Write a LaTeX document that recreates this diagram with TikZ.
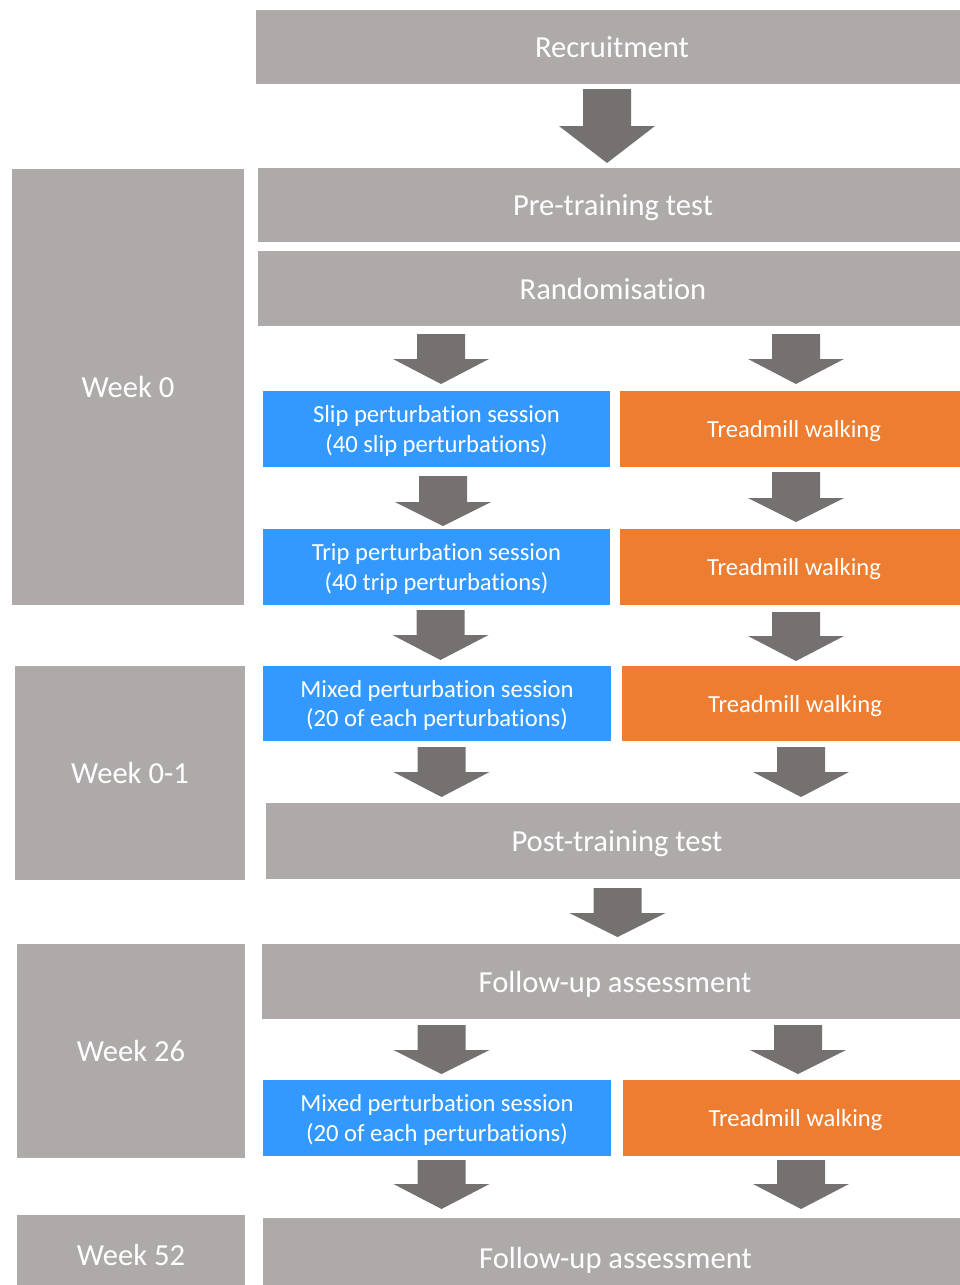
\documentclass[tikz,border=0pt]{standalone}
\usepackage{fontspec}
\setmainfont{Carlito}[Ligatures={NoCommon,NoRequired,NoContextual},Contextuals=NoAlternate]

\definecolor{boxgrey}{HTML}{AEAAAA}
\definecolor{arrowgrey}{HTML}{767171}
\definecolor{trainblue}{HTML}{3399FF}
\definecolor{walkorange}{HTML}{ED7D31}

\def\px{0.02cm}
% block arrow: centre x, shaft top, head start, tip
\newcommand{\flowarrow}[4]{%
  \fill[arrowgrey] (#1-24,#2) -- (#1+24,#2) -- (#1+24,#3) -- (#1+48,#3)
    -- (#1,#4) -- (#1-48,#3) -- (#1-24,#3) -- cycle;}

\begin{document}
\begin{tikzpicture}[x=0.02cm,y=-0.02cm,
  stage/.style={fill=boxgrey,text=white,inner sep=0pt,align=center,text depth=0pt,
    font=\fontsize{17.4}{21}\selectfont},
  train/.style={fill=trainblue,text=white,inner sep=0pt,align=center,text depth=0pt,
    font=\fontsize{14}{16.8}\selectfont},
  walk/.style={train,fill=walkorange}]
\useasboundingbox (0,0) rectangle (960,1285);
\clip (0,0) rectangle (960,1285);

% week column
\node[stage,minimum width=232*\px,minimum height=436*\px] (wk0) at (128,387) {Week 0};
\node[stage,minimum width=230*\px,minimum height=214*\px] (wk01) at (130,773) {Week 0-1};
\node[stage,minimum width=228*\px,minimum height=214*\px] (wk26) at (131,1051) {Week 26};
\node[stage,minimum width=228*\px,minimum height=80*\px] (wk52) at (131,1255) {Week 52};

% full width stages
\node[stage,minimum width=712*\px,minimum height=74*\px] (rec) at (612,47) {Recruitment};
\node[stage,minimum width=710*\px,minimum height=74*\px] (pretest) at (613,205) {Pre-training test};
\node[stage,minimum width=710*\px,minimum height=75*\px] (rand) at (613,288.5) {Randomisation};
\node[stage,minimum width=702*\px,minimum height=76*\px] (post) at (617,841) {Post-training test};
\node[stage,minimum width=706*\px,minimum height=75*\px] (fuA) at (615,981.5) {Follow-up assessment};
\node[stage,minimum width=705*\px,minimum height=80*\px] (fuB) at (615.5,1258) {Follow-up assessment};

% training groups
\node[train,minimum width=347*\px,minimum height=76*\px] (slip) at (436.5,429) {Slip perturbation session\\(40 slip perturbations)};
\node[train,minimum width=347*\px,minimum height=76*\px] (trip) at (436.5,567) {Trip perturbation session\\(40 trip perturbations)};
\node[train,minimum width=348*\px,minimum height=75*\px] (mixA) at (437,703.5) {Mixed perturbation session\\(20 of each perturbations)};
\node[train,minimum width=348*\px,minimum height=76*\px] (mixB) at (437,1118) {Mixed perturbation session\\(20 of each perturbations)};

% control groups
\node[walk,minimum width=348*\px,minimum height=76*\px] (walkA) at (794,429) {Treadmill walking};
\node[walk,minimum width=348*\px,minimum height=76*\px] (walkB) at (794,567) {Treadmill walking};
\node[walk,minimum width=346*\px,minimum height=75*\px] (walkC) at (795,703.5) {Treadmill walking};
\node[walk,minimum width=345*\px,minimum height=76*\px] (walkD) at (795.5,1118) {Treadmill walking};

% arrows
\flowarrow{607}{89}{126}{163}
\flowarrow{441}{334}{359}{384}
\flowarrow{796}{334}{359}{384}
\flowarrow{443}{476}{502}{526}
\flowarrow{796}{472}{498}{522}
\flowarrow{440.5}{610}{635}{660}
\flowarrow{796}{612}{636}{661}
\flowarrow{441.5}{747}{772}{797}
\flowarrow{801}{747}{772}{797}
\flowarrow{617.5}{888}{913}{937}
\flowarrow{441.5}{1025}{1050}{1074}
\flowarrow{798}{1025}{1050}{1074}
\flowarrow{441.5}{1160}{1184}{1209}
\flowarrow{801}{1160}{1184}{1209}
\end{tikzpicture}
\end{document}
